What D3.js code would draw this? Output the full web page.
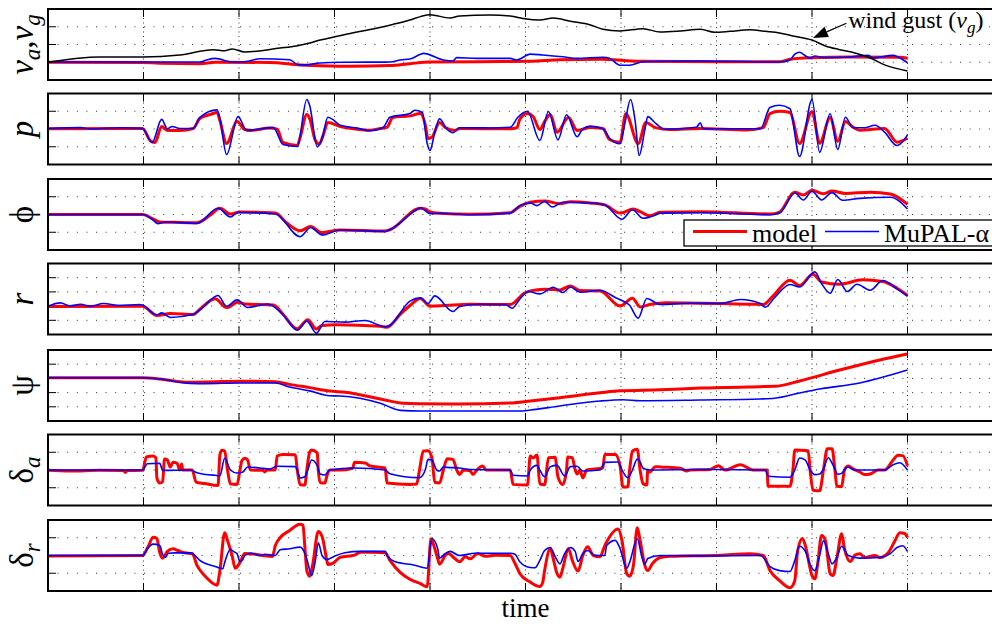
<!DOCTYPE html>
<html>
<head>
<meta charset="utf-8">
<script src="https://cdn.jsdelivr.net/npm/d3@7"></script>
<style>
  body { margin: 0; background: #fff; }
  svg { display: block; }
  text { font-family: "Liberation Serif", "Times New Roman", "DejaVu Serif", serif; fill: #000; }
</style>
</head>
<body>
<div id="chart"></div>
<script>

// time axis (grid every 10 units, data runs to 90)
const timeDomain = [0, 100]
const timeTicks = [10, 20, 30, 40, 50, 60, 70, 80, 90]

// panel 1: airspeed / wind gust
const vaGust = [[0,0],[5.4,0.30],[9.9,0.30],[13.8,0.41],[17.3,0.71],[18.5,0.65],[19.3,0.75],[20.6,0.58],[24.3,0.80],[26.0,0.92],[27.4,1.08],[28.5,1.25],[29.5,1.37],[30.9,1.54],[34.5,1.93],[36.1,2.13],[37.9,2.38],[39.0,2.57],[40.0,2.68],[42.1,2.49],[43.1,2.61],[46.3,2.66],[48.4,2.61],[49.9,2.45],[51.5,2.38],[52.9,2.49],[54.7,2.31],[56.8,2.10],[58.1,1.86],[59.9,1.76],[62.3,1.89],[64.1,1.70],[66.2,1.76],[68.3,1.86],[69.8,1.69],[71.4,1.74],[73.5,1.83],[75.1,1.74],[76.6,1.65],[78.0,1.48],[80.0,1.25],[81.4,0.92],[82.9,0.71],[84.5,0.52],[86.1,0.24],[87.6,-0.15],[90.0,-0.49]]
const vaModel = [[0,0],[9.9,-0.01],[11.7,-0.06],[15.9,-0.08],[17.5,0],[23.2,-0.01],[26.4,-0.15],[29.5,-0.21],[31.6,-0.23],[35.8,-0.19],[37.9,-0.08],[40.0,0.01],[45.2,0.03],[50.5,0.05],[53.6,0.14],[57.8,0.17],[62.0,0.05],[76.6,0.03],[77.7,0.17],[79.8,0.26],[84.0,0.30],[89.2,0.28],[90.0,0.22]]
const vaMupal = [[0,0.01],[9.9,0.01],[15.9,0.01],[16.6,0.13],[17.5,0.22],[19.3,0.01],[20.6,0.03],[22.2,0.20],[25.3,0.14],[26.2,-0.14],[26.9,-0.15],[28.5,-0.04],[30.9,0],[35.8,0.01],[36.9,0.13],[37.9,0.18],[39.0,0.45],[39.3,0.50],[41.4,0.13],[42.4,0.07],[42.8,0.26],[44.9,0.22],[48.4,0.22],[49.1,0.13],[50.5,0.46],[51.8,0.41],[53.9,0.31],[55.4,0.22],[58.1,0.28],[58.8,0.22],[59.9,-0.17],[60.9,-0.17],[62.3,0.03],[68.3,0.07],[76.6,0.01],[77.7,0.13],[78.2,0.46],[78.7,0.56],[79.3,0.37],[79.8,0.22],[80.3,0.35],[81.2,0.26],[84.0,0.30],[85.9,0.39],[86.4,0.24],[88.5,0.39],[89.2,0.24],[90.0,-0.03]]

// panel 2: roll rate p
const pModel = [[0,0.02],[9.9,0.03],[10.7,-0.65],[11.2,-0.76],[11.9,0.14],[12.5,-0.08],[13.8,-0.08],[15.2,0.03],[15.9,0.59],[17.0,0.82],[17.7,0.93],[18.0,0.48],[18.7,-0.82],[19.8,0.42],[20.6,-0.03],[21.2,-0.08],[23.2,0.05],[24.0,-0.01],[24.6,-0.76],[26.1,-0.93],[26.4,-0.48],[27.1,0.82],[27.4,0.59],[28.0,-0.65],[28.4,-0.85],[28.8,-0.37],[29.3,0.37],[30.6,0.14],[32.7,-0.03],[33.7,-0.07],[34.8,0.03],[35.5,0.10],[36.1,0.65],[37.9,0.74],[39.0,0.87],[39.5,0.25],[39.8,-0.54],[40.2,-0.46],[41.0,0.37],[41.6,0.08],[42.6,-0.08],[43.1,0.03],[48.4,0.01],[49.1,0.08],[49.4,0.54],[50.2,0.87],[50.8,0.70],[51.5,-0.03],[52.0,0.42],[52.6,0.82],[53.3,-0.18],[54.5,0.65],[55.4,-0.08],[56.8,0.08],[58.1,0.03],[58.8,-0.59],[59.9,-0.76],[60.5,0.86],[61.8,-0.82],[62.6,0.37],[63.6,0.08],[65.1,-0.03],[68.3,0.03],[73.2,-0.05],[74.9,0.08],[75.6,0.87],[76.6,1.00],[77.7,0.93],[78.7,-0.82],[80.0,0.99],[80.8,-0.80],[81.9,0.65],[82.7,-0.69],[83.5,0.42],[84.3,0.10],[85.0,-0.07],[87.6,0.03],[88.9,-0.74],[90.0,-0.52]]
const pMupal = [[0,0.03],[3.4,0.08],[4.4,0.01],[7.5,0.07],[9.9,0.03],[10.9,-0.76],[11.9,0.54],[12.5,0.01],[13.0,0.14],[13.8,0.03],[15.2,0.03],[15.9,0.65],[17.7,1.08],[18.0,0.59],[18.7,-1.44],[19.9,0.70],[20.8,-0.08],[23.6,0.08],[24.6,-0.87],[26.1,-0.99],[27.1,1.66],[27.4,1.32],[28.2,-1.01],[28.7,-0.54],[29.3,0.66],[29.8,0.54],[30.6,0.21],[32.4,0.05],[33.7,-0.10],[35.1,0.08],[35.8,0.66],[37.9,0.87],[38.4,1.06],[39.2,0.93],[39.7,-0.80],[40.0,-1.21],[40.5,-0.18],[41.0,0.57],[41.8,-0.03],[42.4,-0.21],[43.1,0.07],[46.3,0.06],[48.4,0.10],[49.2,0.66],[50.2,1.00],[51.5,-0.65],[52.4,0.99],[53.4,-0.61],[54.3,0.80],[55.4,-0.44],[56.0,0.01],[56.8,0.16],[58.1,0.01],[58.8,-0.52],[59.9,-0.83],[60.4,0.31],[61.0,1.66],[61.5,0.37],[61.9,-1.49],[62.5,-0.03],[62.8,0.70],[63.6,0.33],[64.6,-0.01],[67.9,0.10],[68.3,0.35],[68.6,0.01],[74.6,0.01],[75.6,1.21],[76.6,1.34],[77.7,1.14],[78.7,-1.55],[80.0,1.66],[80.8,-1.31],[81.9,0.86],[82.7,-1.15],[83.5,0.66],[84.3,0.07],[85.5,0.07],[86.6,0.21],[87.6,-0.18],[88.9,-0.93],[89.5,-0.70],[90.0,-0.33]]

// panel 3: roll angle phi
const phiModel = [[0,0],[9.9,0],[11.0,-0.25],[11.7,-0.42],[13.3,-0.44],[15.6,-0.46],[17.0,-0.03],[18.0,0.35],[19.1,0.03],[20.1,0.14],[23.8,0.08],[25.0,-0.48],[26.4,-0.91],[27.5,-0.68],[28.6,-1.01],[30.6,-0.87],[35.3,-0.93],[35.8,-0.86],[39.0,0.35],[39.5,0.31],[40.0,0.14],[41.0,0.07],[44.2,0.01],[48.4,0.10],[49.4,0.46],[50.5,0.69],[52.0,0.76],[53.6,0.61],[54.7,0.72],[56.8,0.65],[58.3,0.54],[59.9,0.08],[61.3,0.31],[62.0,0.16],[63.0,-0.07],[64.1,0.12],[68.3,0.16],[75.6,0.03],[76.6,0.14],[78.2,1.25],[79.1,1.10],[80.0,1.36],[81.2,1.17],[82.1,1.32],[83.5,1.19],[86.1,1.25],[88.2,1.15],[90.0,0.57]]
const phiMupal = [[0,0],[9.9,0],[11.0,-0.31],[11.5,-0.52],[12.3,-0.42],[15.6,-0.50],[17.8,0.35],[19.1,-0.14],[19.9,0.12],[23.8,0.03],[26.4,-1.25],[27.5,-0.73],[28.7,-1.15],[30.6,-0.87],[35.3,-0.95],[35.8,-0.86],[38.7,0.31],[39.0,0.38],[40.0,0.05],[41.0,0.07],[44.2,-0.01],[48.4,0.08],[49.4,0.50],[50.5,0.65],[51.2,0.50],[52.0,0.74],[52.8,0.42],[53.9,0.69],[56.8,0.65],[58.3,0.54],[60.1,-0.27],[61.2,0.27],[62.3,-0.21],[63.6,-0.03],[64.1,0.08],[68.3,0.10],[75.6,-0.01],[76.6,0.08],[78.2,1.21],[79.1,0.82],[80.0,1.31],[81.0,0.82],[82.1,1.23],[83.2,0.80],[85.0,0.91],[88.2,0.97],[90.0,0.31]]

// panel 4: yaw rate r
const rModel = [[0,-0.03],[9.9,-0.01],[11.4,-0.66],[12.8,-0.52],[15.2,-0.59],[15.9,-0.22],[17.5,0.51],[18.7,-0.10],[19.9,0.27],[20.6,0.15],[23.6,0.08],[24.6,-0.57],[26.1,-1.60],[27.2,-0.96],[28.1,-1.61],[28.7,-1.37],[30.1,-1.31],[34.8,-1.42],[35.5,-1.49],[36.9,-0.57],[37.9,0.04],[39.0,0.54],[40.0,-0.01],[41.6,0.04],[44.2,0.13],[48.4,0.11],[49.9,0.91],[50.5,1.07],[52.0,1.19],[53.6,1.14],[54.7,1.42],[55.7,1.10],[57.8,1.07],[59.9,0.01],[61.2,0.56],[62.0,-0.06],[63.0,0.11],[64.8,0.23],[73.5,0.13],[74.9,0.11],[75.9,0.70],[77.7,1.82],[78.7,1.45],[80.1,2.25],[81.0,1.70],[82.9,1.54],[85.3,1.85],[87.4,1.73],[88.9,1.26],[90.0,0.77]]
const rMupal = [[0,-0.01],[1.3,0.23],[2.3,0.01],[3.4,0.13],[4.4,-0.01],[5.8,0.18],[7.5,0.04],[9.6,0.11],[9.9,0.06],[11.4,-0.62],[11.9,-0.48],[12.8,-0.80],[15.2,-0.57],[16.2,-0.10],[17.8,0.75],[18.7,-0.01],[19.8,0.44],[20.9,-0.10],[23.0,0.15],[24.6,-0.59],[26.1,-1.70],[27.1,-1.06],[28.1,-1.91],[29.0,-1.08],[31.1,-1.13],[33.2,-1.01],[35.3,-1.46],[35.8,-1.35],[37.9,0.35],[39.0,0.58],[39.8,0.18],[40.5,0.72],[42.4,-0.38],[43.1,-0.03],[45.2,0.13],[47.9,0.11],[48.6,-0.15],[49.4,0.49],[50.3,1.03],[51.5,0.86],[52.9,1.33],[53.9,0.96],[54.7,1.35],[55.7,0.98],[57.8,1.12],[59.4,0.61],[60.1,0.39],[60.9,0.06],[61.8,-0.85],[62.7,0.54],[64.1,0.11],[67.2,0.20],[70.4,0.18],[72.5,0.46],[74.6,0.18],[75.1,-0.08],[76.1,0.61],[77.7,1.52],[78.7,1.35],[80.3,2.41],[81.0,1.59],[81.9,0.91],[82.7,1.87],[83.7,1.03],[84.7,1.54],[86.1,1.12],[87.4,1.80],[88.9,1.21],[90.0,0.68]]

// panel 5: heading psi
const psiModel = [[0,0.05],[9.9,0.05],[11.7,-0.04],[13.8,-0.23],[14.9,-0.27],[17.0,-0.25],[20.1,-0.20],[23.8,-0.23],[25.3,-0.42],[27.4,-0.65],[29.5,-0.89],[31.1,-0.98],[34.8,-1.45],[37.2,-1.75],[39.0,-1.78],[43.1,-1.80],[48.4,-1.73],[50.5,-1.59],[53.6,-1.36],[57.8,-1.01],[59.9,-0.87],[64.1,-0.80],[68.3,-0.68],[74.6,-0.58],[76.1,-0.56],[78.7,-0.18],[82.9,0.59],[87.1,1.30],[90.0,1.72]]
const psiMupal = [[0,0.05],[9.9,0.05],[11.7,-0.04],[14.9,-0.35],[16.4,-0.37],[20.1,-0.32],[23.8,-0.32],[25.3,-0.61],[27.4,-0.88],[29.5,-1.22],[30.6,-1.24],[34.8,-1.75],[36.9,-2.25],[39.0,-2.30],[49.4,-2.30],[50.5,-2.23],[53.6,-1.94],[57.8,-1.59],[60.2,-1.50],[62.0,-1.57],[68.3,-1.52],[74.6,-1.45],[76.1,-1.40],[78.7,-1.03],[80.8,-0.75],[85.0,-0.32],[90.0,0.59]]

// panel 6: aileron deflection
const daModel = [[0,-0.02],[2.3,-0.06],[5.4,-0.02],[7.9,-0.03],[8.1,-0.14],[8.3,-0.03],[9.9,-0.02],[10.3,0.73],[11.0,0.79],[11.3,0.68],[11.4,-0.45],[11.7,-0.73],[12.0,-0.68],[12.2,0.62],[12.5,0.56],[12.8,0.17],[13.1,0.43],[13.5,0.39],[13.8,0],[14.0,0.34],[14.1,0],[15.1,0],[15.5,-0.68],[16.4,-0.76],[17.8,-0.87],[18.0,0.85],[18.2,1.11],[18.5,1.07],[18.8,0],[19.1,-0.79],[19.8,-0.81],[20.1,0],[20.3,0.52],[20.6,0.66],[20.9,0.56],[21.2,0],[22.5,-0.02],[22.7,-0.11],[22.9,0],[23.8,0],[24.0,0.79],[24.6,0.88],[25.9,0.86],[26.1,0],[26.4,-0.83],[26.9,-0.85],[27.1,0],[27.4,1.01],[27.6,1.13],[28.2,0.96],[28.3,0],[28.5,-0.72],[29.0,-0.73],[29.2,-0.34],[29.5,0],[30.6,0],[31.9,0.10],[32.1,0.43],[33.2,0.39],[33.7,0.23],[35.3,0.11],[35.5,-0.73],[37.9,-0.81],[38.6,-0.79],[38.9,0],[39.3,1.07],[39.8,1.09],[40.2,0.68],[40.5,-0.69],[41.0,-0.73],[41.4,0],[41.8,0.64],[42.4,0.60],[42.8,0],[43.1,-0.26],[43.5,0],[44.2,-0.04],[44.5,-0.26],[44.9,0],[45.5,0.23],[45.9,0],[48.4,0],[48.7,-0.81],[50.2,-0.85],[50.5,0.79],[50.8,0.68],[51.2,0.85],[51.5,-0.79],[52.0,-0.83],[52.4,0.69],[53.1,0.72],[53.4,-0.39],[53.9,-0.81],[54.3,0],[54.4,0.73],[54.9,0.69],[55.2,0],[55.4,-0.23],[55.7,0],[56.0,-0.45],[56.4,0],[58.1,0.11],[58.3,0.88],[59.4,0.88],[59.9,0.23],[60.2,-0.96],[60.7,-0.96],[60.9,0],[61.2,1.07],[61.7,1.17],[62.0,0],[62.3,-0.76],[62.7,-0.85],[62.8,0],[63.0,-0.11],[63.6,0.19],[64.1,0.17],[66.2,0.10],[66.9,-0.06],[67.2,0],[69.3,0.03],[70.2,0.24],[70.9,0],[72.5,0.30],[73.8,0],[75.3,0],[75.4,-0.92],[77.7,-0.92],[78.0,0],[78.2,1.13],[79.6,1.09],[79.8,0],[80.1,-1.14],[80.8,-1.17],[81.2,0],[81.6,1.20],[82.1,1.20],[82.4,0],[82.6,-0.92],[83.1,-0.94],[83.4,0],[83.8,0.23],[84.3,0.06],[85.0,-0.11],[85.5,-0.26],[86.1,-0.23],[86.9,0],[87.6,0],[88.5,0.56],[89.0,0.83],[89.5,0.81],[90.0,0.23]]
const daMupal = [[0,0],[9.9,0],[10.4,0.35],[11.7,0.38],[12.0,-0.02],[14.9,0],[15.6,-0.15],[17.5,-0.30],[18.0,-0.32],[18.5,0.66],[19.1,0],[19.8,-0.17],[20.4,-0.11],[20.9,0.17],[22.2,0.11],[23.2,0.06],[24.0,0.21],[25.9,0.19],[26.1,0],[26.4,-0.45],[26.9,-0.38],[27.2,0],[27.6,0.56],[28.2,0.23],[28.5,-0.23],[29.0,-0.28],[29.5,0],[32.1,0.11],[35.3,0],[35.8,-0.21],[38.9,-0.43],[39.5,0],[39.8,0.60],[40.2,0.56],[40.7,0],[41.0,-0.06],[41.4,0.17],[41.8,0.15],[43.1,0.11],[44.2,0.03],[48.4,0],[48.7,-0.30],[50.2,-0.34],[50.5,0],[51.2,0.26],[51.5,0],[52.0,-0.38],[52.6,0.19],[53.3,0.26],[54.1,-0.34],[54.7,0.19],[55.4,0.21],[56.0,-0.06],[57.8,0],[58.3,0.43],[59.7,0.45],[60.1,0],[60.7,-0.43],[61.2,0],[61.7,0.62],[62.0,0.45],[62.3,0.11],[63.0,0],[68.3,0.03],[75.1,0],[75.4,-0.35],[77.7,-0.41],[78.2,0],[78.7,0.68],[79.3,0.56],[79.8,0],[80.3,-0.26],[80.8,-0.23],[81.2,0.06],[81.7,0.69],[82.2,0.28],[82.7,-0.24],[83.1,-0.19],[83.7,0.17],[84.5,0],[87.6,0],[88.5,0.30],[89.2,0.41],[90.0,0]]

// panel 7: rudder deflection
const drModel = [[0,-0.03],[9.9,0],[10.5,0.51],[11.0,1.03],[11.4,0.96],[11.7,0.17],[12.0,-0.15],[12.5,0.23],[13.1,0.38],[13.6,0.28],[14.3,0.15],[15.1,0.11],[15.6,-0.56],[16.4,-1.13],[17.7,-1.67],[18.0,-0.85],[18.5,1.28],[18.8,0.85],[19.3,-0.06],[19.6,-0.72],[20.1,-0.39],[20.6,0.11],[21.7,0.07],[22.5,0],[23.5,-0.06],[23.8,0.56],[24.3,1.00],[25.3,1.41],[26.4,1.76],[26.7,1.71],[26.9,0.45],[27.1,-0.85],[27.4,-1.17],[27.7,-0.56],[28.3,1.35],[28.7,1.07],[29.2,-0.28],[29.3,-0.51],[29.8,-0.45],[30.6,-0.10],[32.1,0.02],[32.7,0.19],[34.2,0.19],[35.3,0.15],[35.8,-0.28],[36.9,-0.96],[37.9,-1.34],[39.0,-1.59],[39.7,-1.76],[40.1,0.94],[40.4,0.56],[40.8,-0.17],[41.0,-0.49],[41.6,0],[41.9,0.11],[42.6,-0.17],[43.1,-0.35],[43.7,-0.07],[44.2,-0.19],[45.0,0.11],[45.8,-0.04],[46.8,0.02],[48.4,0],[48.9,-0.45],[49.4,-1.01],[50.5,-1.50],[51.5,-1.75],[51.8,-1.52],[52.0,-0.85],[52.6,0.39],[52.9,-0.17],[53.3,-1.01],[53.6,-1.22],[53.9,-0.73],[54.5,0.38],[54.9,-0.28],[55.5,-0.88],[56.0,0],[56.5,0.49],[57.1,0],[57.8,-0.07],[58.3,0.56],[59.7,1.50],[60.1,0.85],[60.6,-1.03],[60.9,-1.17],[61.3,-0.56],[61.7,1.56],[62.0,0.85],[62.5,-0.56],[62.8,-0.85],[63.3,-0.45],[64.1,-0.11],[65.1,-0.04],[70.4,0.02],[73.5,0.10],[74.9,0],[75.6,-0.85],[76.6,-1.41],[77.7,-1.82],[78.2,-1.41],[78.5,0.28],[79.0,0.96],[79.3,0.56],[80.0,-1.13],[80.3,-1.31],[80.6,-0.45],[81.0,1.13],[81.4,0.85],[81.9,-1.03],[82.2,-1.13],[82.6,-0.17],[83.1,1.22],[83.4,0.39],[84.0,-0.34],[84.5,0.02],[85.0,0.10],[85.5,-0.11],[86.6,0],[87.1,-0.11],[88.0,0.17],[88.7,0.85],[89.2,1.28],[89.7,1.24],[90.0,1.01]]
const drMupal = [[0,0],[9.9,0],[10.4,0.38],[11.0,0.64],[11.7,0.56],[12.0,0.06],[12.3,-0.10],[12.6,0.13],[13.3,0.15],[14.9,0.15],[15.4,0],[15.9,-0.28],[17.5,-0.62],[18.3,-0.75],[18.5,-0.39],[19.1,0.35],[19.4,0.23],[19.8,0.10],[20.1,-0.34],[20.4,-0.23],[20.6,0],[21.2,0.13],[22.2,0],[22.7,0.07],[23.8,0],[24.3,0.32],[25.3,0.38],[26.4,0.47],[26.9,0.11],[27.2,-0.39],[27.6,-1.13],[28.0,-0.28],[28.3,0.72],[28.7,0],[29.2,-0.23],[29.5,-0.17],[30.1,-0.02],[31.1,0.15],[32.7,0.23],[35.3,0.23],[35.6,-0.07],[36.3,-0.34],[38.4,-0.55],[39.7,-0.72],[40.2,0.94],[40.8,0.39],[41.0,-0.15],[41.6,0.11],[42.1,0.23],[43.1,0],[44.7,0.13],[48.4,0.13],[48.9,0.07],[49.4,-0.35],[50.5,-0.68],[51.0,-0.69],[51.5,-0.28],[52.0,0.28],[52.6,0.45],[53.1,-0.06],[53.6,-0.47],[54.1,0.11],[54.7,0.45],[55.2,0.23],[55.5,-0.34],[56.0,0.11],[56.5,0.28],[57.3,0],[58.3,0],[58.5,0.56],[59.4,0.85],[59.9,0.39],[60.6,-0.73],[60.9,-0.39],[61.7,0.94],[62.2,-0.11],[62.5,-0.49],[62.8,-0.17],[64.1,0],[68.3,-0.02],[74.6,0],[75.6,-0.62],[76.6,-0.85],[77.7,-0.90],[78.2,-0.28],[78.7,0.52],[79.3,0.23],[79.8,-0.51],[80.3,-0.85],[80.8,0],[81.2,0.83],[81.7,0.11],[82.1,-0.47],[82.6,-0.11],[83.1,0.52],[83.8,0],[85.0,-0.15],[87.1,-0.11],[88.2,0.11],[88.9,0.45],[89.5,0.55],[90.0,0.23]]

// y labels: [text, italic, subscript]
const yLabels = [
    [['v',1,0],['a',1,1],[',',0,0],['v',1,0],['g',1,1]],
    [['p',1,0]],
    [['\u03D5',0,0]],
    [['r',1,0]],
    [['\u03C8',0,0]],
    [['\u03B4',0,0],['a',1,1]],
    [['\u03B4',0,0],['r',1,1]]
]
const legendNames = ['model', 'MuPAL-\u03B1']
const gustText = 'wind gust ('
const xLabel = 'time'

const red = '#ff0000', blue = '#0000ff'

const width = 992, height = 626
const left = 48, right = 1003
const panelTop = [9, 93.5, 179, 263.5, 350, 434.5, 520]
const panelH = 71

const panels = [
    {domain: [-1, 3], grid: [0, 1, 2], series: [[vaModel, red, 3], [vaMupal, blue, 1.6], [vaGust, '#000', 1.5]]},
    {domain: [-2, 2], grid: [-1, 0, 1], series: [[pModel, red, 3], [pMupal, blue, 1.6]]},
    {domain: [-2, 2], grid: [-1, 0, 1], series: [[phiModel, red, 3], [phiMupal, blue, 1.6]]},
    {domain: [-2, 3], grid: [-1, 0, 1, 2], series: [[rModel, red, 3], [rMupal, blue, 1.6]]},
    {domain: [-3, 2], grid: [-2, -1, 0, 1], series: [[psiModel, red, 3], [psiMupal, blue, 1.6]]},
    {domain: [-2, 2], grid: [-1, 0, 1], series: [[daModel, red, 3], [daMupal, blue, 1.6]]},
    {domain: [-2, 2], grid: [-1, 0, 1], series: [[drModel, red, 3], [drMupal, blue, 1.6]]}
]

let svg = d3.select('#chart').append('svg')
    .attr('width', width)
    .attr('height', height)

let x = d3.scaleLinear().domain(timeDomain).range([left, right])

let yScales = []

panels.forEach(function(p, i){

    let top = panelTop[i], bottom = top + panelH

    let y = d3.scaleLinear().domain(p.domain).range([bottom, top])
    yScales.push(y)

    let g = svg.append('g')

    // dotted grid
    g.selectAll('.vgrid')
        .data(timeTicks)
        .enter()
        .append('line')
        .attr('x1', d => x(d)).attr('x2', d => x(d))
        .attr('y1', top).attr('y2', bottom)
        .attr('stroke', '#333')
        .attr('stroke-dasharray', '1,3.5')

    g.selectAll('.hgrid')
        .data(p.grid)
        .enter()
        .append('line')
        .attr('x1', left).attr('x2', right)
        .attr('y1', d => y(d)).attr('y2', d => y(d))
        .attr('stroke', '#333')
        .attr('stroke-dasharray', '1,8.6')

    // inward ticks
    timeTicks.forEach(function(t){
        g.append('line').attr('x1', x(t)).attr('x2', x(t)).attr('y1', top).attr('y2', top + 8)
            .attr('stroke', '#000')
        g.append('line').attr('x1', x(t)).attr('x2', x(t)).attr('y1', bottom - 8).attr('y2', bottom)
            .attr('stroke', '#000')
    })
    p.grid.forEach(function(v){
        g.append('line').attr('x1', left).attr('x2', left + 8).attr('y1', y(v)).attr('y2', y(v))
            .attr('stroke', '#000')
    })

    let line = d3.line()
        .curve(d3.curveMonotoneX)
        .x(d => x(d[0]))
        .y(d => y(d[1]))

    p.series.forEach(function(s){
        g.append('path')
            .datum(s[0])
            .attr('d', line)
            .attr('fill', 'none')
            .attr('stroke', s[1])
            .attr('stroke-width', s[2])
            .attr('stroke-linejoin', 'round')
    })

    g.append('rect')
        .attr('x', left).attr('y', top)
        .attr('width', right - left).attr('height', panelH)
        .attr('fill', 'none')
        .attr('stroke', '#000')
        .attr('stroke-width', 2)

    // rotated label
    let label = g.append('text')
        .attr('transform', 'translate(33,' + (top + panelH / 2) + ') rotate(-90)')
        .attr('text-anchor', 'middle')
        .attr('font-size', 33)

    let shifted = false
    yLabels[i].forEach(function(part){
        let ts = label.append('tspan').text(part[0])
        if(part[1]) ts.attr('font-style', 'italic')
        if(part[2]){
            ts.attr('font-size', 23).attr('dy', 7)
            shifted = true
        } else if(shifted){
            ts.attr('dy', -7)
            shifted = false
        }
    })
})

// wind gust annotation on panel 1
let y1 = yScales[0]
let tip = [x(80.1), y1(1.37)]
let tail = [x(83.6), y1(2.2)]
let dx = tip[0] - tail[0], dy = tip[1] - tail[1]
let len = Math.sqrt(dx * dx + dy * dy)
let ux = dx / len, uy = dy / len
let headLen = 15, headW = 5.5
let base = [tip[0] - ux * headLen, tip[1] - uy * headLen]

svg.append('line')
    .attr('x1', tail[0]).attr('y1', tail[1])
    .attr('x2', base[0]).attr('y2', base[1])
    .attr('stroke', '#000').attr('stroke-width', 1.2)

svg.append('path')
    .attr('d', 'M' + tip[0] + ',' + tip[1] +
        'L' + (base[0] - uy * headW) + ',' + (base[1] + ux * headW) +
        'L' + (base[0] + uy * headW) + ',' + (base[1] - ux * headW) + 'Z')
    .attr('fill', '#000')

let gust = svg.append('text')
    .attr('x', x(83.8))
    .attr('y', y1(1.93))
    .attr('font-size', 24)
gust.append('tspan').text(gustText)
gust.append('tspan').text('v').attr('font-style', 'italic')
gust.append('tspan').text('g').attr('font-style', 'italic').attr('font-size', 17).attr('dy', 5)
gust.append('tspan').text(')').attr('dy', -5)

// legend
let legend = svg.append('g')

legend.append('rect')
    .attr('x', 684).attr('y', 220)
    .attr('width', 340).attr('height', 26)
    .attr('fill', '#fff')
    .attr('stroke', '#000')
    .attr('stroke-width', 1.3)

legend.append('line').attr('x1', 693).attr('x2', 747).attr('y1', 231.5).attr('y2', 231.5)
    .attr('stroke', red).attr('stroke-width', 3.2)
legend.append('text').attr('x', 752).attr('y', 242).attr('font-size', 26).text(legendNames[0])

legend.append('line').attr('x1', 825).attr('x2', 879).attr('y1', 231.5).attr('y2', 231.5)
    .attr('stroke', blue).attr('stroke-width', 1.6)
legend.append('text').attr('x', 884).attr('y', 242).attr('font-size', 26).text(legendNames[1])

// x label
svg.append('text')
    .attr('x', (left + right) / 2)
    .attr('y', 617)
    .attr('text-anchor', 'middle')
    .attr('font-size', 27)
    .text(xLabel)

</script>
</body>
</html>
